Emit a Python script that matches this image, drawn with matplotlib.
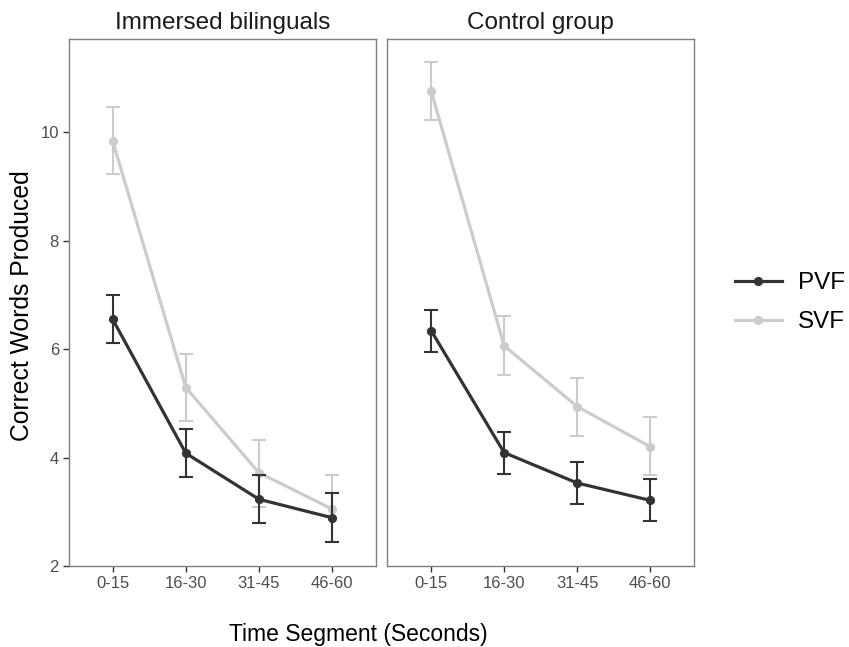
import matplotlib
matplotlib.use("Agg")
import matplotlib.pyplot as plt
from matplotlib.lines import Line2D

plt.rcParams['font.family'] = ['Liberation Sans', 'DejaVu Sans']

segments = ["0-15", "16-30", "31-45", "46-60"]
panels = ["Immersed bilinguals", "Control group"]

# Mean correct words and error-bar limits per panel
pvf_mean = [[6.55, 4.08, 3.23, 2.89], [6.34, 4.09, 3.53, 3.21]]
pvf_low = [[6.11, 3.64, 2.79, 2.45], [5.95, 3.70, 3.14, 2.83]]
pvf_high = [[6.99, 4.53, 3.68, 3.34], [6.72, 4.47, 3.91, 3.60]]

svf_mean = [[9.84, 5.29, 3.72, 3.05], [10.76, 6.06, 4.94, 4.20]]
svf_low = [[9.23, 4.68, 3.09, 2.44], [10.23, 5.52, 4.40, 3.67]]
svf_high = [[10.46, 5.91, 4.32, 3.67], [11.29, 6.60, 5.47, 4.74]]

y_ticks = [2, 4, 6, 8, 10]

PVF_COLOR = "#333333"
SVF_COLOR = "#CCCCCC"

fig = plt.figure(figsize=(8.49, 6.47), dpi=100)
W, H = 849, 647
boxes = [(68.7, 376.0), (387.3, 694.0)]
top_px, bot_px = 38.7, 566.0

x = list(range(1, len(segments) + 1))

for i, (l, r) in enumerate(boxes):
    ax = fig.add_axes([l / W, 1 - bot_px / H, (r - l) / W, (bot_px - top_px) / H])
    for mean, low, high, col, z in [
        (svf_mean[i], svf_low[i], svf_high[i], SVF_COLOR, 2),
        (pvf_mean[i], pvf_low[i], pvf_high[i], PVF_COLOR, 3),
    ]:
        yerr = [[m - lo for m, lo in zip(mean, low)], [hi - m for m, hi in zip(mean, high)]]
        ax.errorbar(x, mean, yerr=yerr, fmt='none', ecolor=col, elinewidth=1.5,
                    capsize=5, capthick=1.5, zorder=z)
        ax.plot(x, mean, color=col, lw=2.3, marker='o', ms=5.6, zorder=z + 0.5)

    ax.set_xlim(0.4, 4.6)
    ax.set_ylim(2, 11.72)
    ax.set_xticks(x)
    ax.set_xticklabels(segments)
    ax.set_yticks(y_ticks)
    for s in ax.spines.values():
        s.set_color("#7F7F7F")
        s.set_linewidth(1.0)
    ax.tick_params(axis='both', length=4, width=1.0, color="#333333",
                   labelcolor="#4D4D4D", labelsize=12, pad=3)
    ax.set_title(panels[i], fontsize=17.5, color="#1A1A1A", pad=7)
    if i > 0:
        ax.tick_params(axis='y', left=False, labelleft=False)

fig.text(358 / W, 1 - 635 / H, "Time Segment (Seconds)", ha='center', va='center',
         fontsize=16.5, color="#000000")
fig.text(22 / W, 1 - 306 / H, "Correct Words Produced", ha='center', va='center',
         rotation=90, fontsize=17.8, color="#000000")

handles = [Line2D([], [], color=PVF_COLOR, lw=2.3, marker='o', ms=5.6),
           Line2D([], [], color=SVF_COLOR, lw=2.3, marker='o', ms=5.6)]
fig.legend(handles, ["PVF", "SVF"], loc='center left',
           bbox_to_anchor=(735 / W, 1 - 302.5 / H), frameon=False, fontsize=17.4,
           borderpad=0, borderaxespad=0,
           handlelength=1.94, handletextpad=0.66, labelspacing=0.7)

fig.savefig("out.png", dpi=100)
